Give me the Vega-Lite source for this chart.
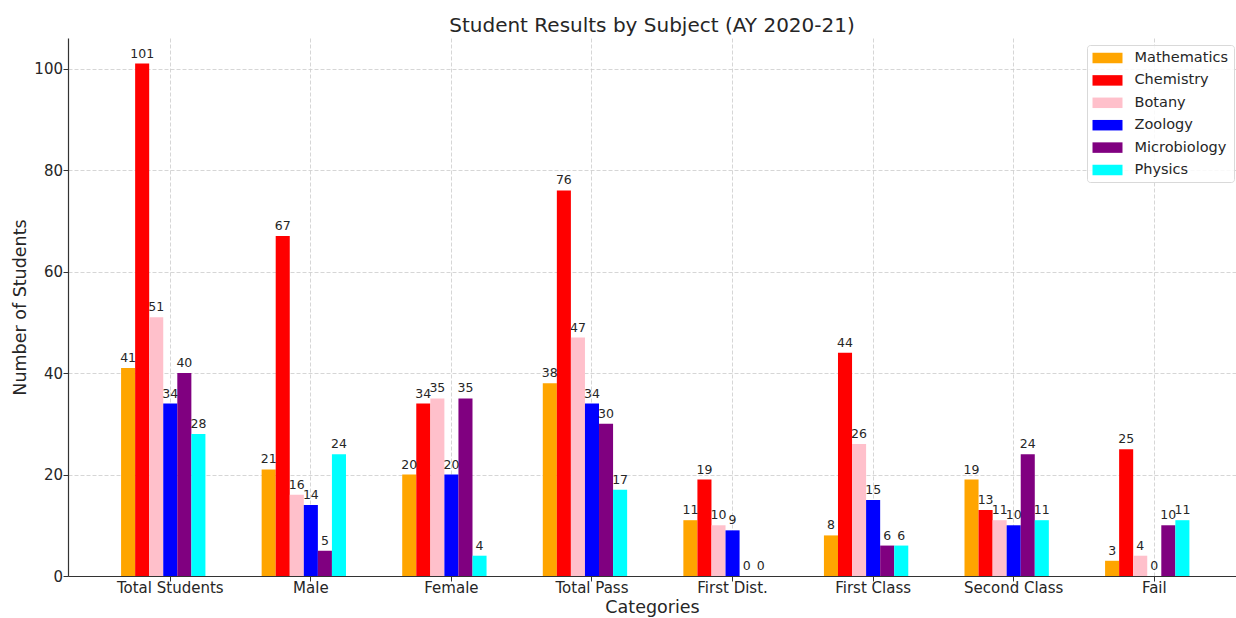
{
  "$schema": "https://vega.github.io/schema/vega-lite/v6.json",
  "autosize": {"type": "none"},
  "padding": {"left": 68, "top": 38, "right": 0, "bottom": 42},
  "width": 1168,
  "height": 538,
  "background": "white",
  "config": {
    "view": {"stroke": null},
    "font": "DejaVu Sans",
    "axis": {
      "labelFont": "DejaVu Sans",
      "titleFont": "DejaVu Sans",
      "labelFontSize": 15,
      "titleFontSize": 17.5,
      "titleFontWeight": "normal",
      "labelColor": "#262626",
      "titleColor": "#262626",
      "domainColor": "#333333",
      "domainWidth": 1.2,
      "tickColor": "#333333",
      "tickSize": 5,
      "tickWidth": 1,
      "gridColor": "#cccccc",
      "gridDash": [4, 2],
      "gridWidth": 0.8
    }
  },
  "title": {
    "text": "Student Results by Subject (AY 2020-21)",
    "fontSize": 20,
    "fontWeight": "normal",
    "color": "#262626",
    "font": "DejaVu Sans",
    "offset": 2
  },
  "data": {
    "values": [
      {"category": "Total Students", "subject": "Mathematics", "value": 41},
      {"category": "Total Students", "subject": "Chemistry", "value": 101},
      {"category": "Total Students", "subject": "Botany", "value": 51},
      {"category": "Total Students", "subject": "Zoology", "value": 34},
      {"category": "Total Students", "subject": "Microbiology", "value": 40},
      {"category": "Total Students", "subject": "Physics", "value": 28},
      {"category": "Male", "subject": "Mathematics", "value": 21},
      {"category": "Male", "subject": "Chemistry", "value": 67},
      {"category": "Male", "subject": "Botany", "value": 16},
      {"category": "Male", "subject": "Zoology", "value": 14},
      {"category": "Male", "subject": "Microbiology", "value": 5},
      {"category": "Male", "subject": "Physics", "value": 24},
      {"category": "Female", "subject": "Mathematics", "value": 20},
      {"category": "Female", "subject": "Chemistry", "value": 34},
      {"category": "Female", "subject": "Botany", "value": 35},
      {"category": "Female", "subject": "Zoology", "value": 20},
      {"category": "Female", "subject": "Microbiology", "value": 35},
      {"category": "Female", "subject": "Physics", "value": 4},
      {"category": "Total Pass", "subject": "Mathematics", "value": 38},
      {"category": "Total Pass", "subject": "Chemistry", "value": 76},
      {"category": "Total Pass", "subject": "Botany", "value": 47},
      {"category": "Total Pass", "subject": "Zoology", "value": 34},
      {"category": "Total Pass", "subject": "Microbiology", "value": 30},
      {"category": "Total Pass", "subject": "Physics", "value": 17},
      {"category": "First Dist.", "subject": "Mathematics", "value": 11},
      {"category": "First Dist.", "subject": "Chemistry", "value": 19},
      {"category": "First Dist.", "subject": "Botany", "value": 10},
      {"category": "First Dist.", "subject": "Zoology", "value": 9},
      {"category": "First Dist.", "subject": "Microbiology", "value": 0},
      {"category": "First Dist.", "subject": "Physics", "value": 0},
      {"category": "First Class", "subject": "Mathematics", "value": 8},
      {"category": "First Class", "subject": "Chemistry", "value": 44},
      {"category": "First Class", "subject": "Botany", "value": 26},
      {"category": "First Class", "subject": "Zoology", "value": 15},
      {"category": "First Class", "subject": "Microbiology", "value": 6},
      {"category": "First Class", "subject": "Physics", "value": 6},
      {"category": "Second Class", "subject": "Mathematics", "value": 19},
      {"category": "Second Class", "subject": "Chemistry", "value": 13},
      {"category": "Second Class", "subject": "Botany", "value": 11},
      {"category": "Second Class", "subject": "Zoology", "value": 10},
      {"category": "Second Class", "subject": "Microbiology", "value": 24},
      {"category": "Second Class", "subject": "Physics", "value": 11},
      {"category": "Fail", "subject": "Mathematics", "value": 3},
      {"category": "Fail", "subject": "Chemistry", "value": 25},
      {"category": "Fail", "subject": "Botany", "value": 4},
      {"category": "Fail", "subject": "Zoology", "value": 0},
      {"category": "Fail", "subject": "Microbiology", "value": 10},
      {"category": "Fail", "subject": "Physics", "value": 11}
    ]
  },
  "encoding": {
    "x": {
      "field": "category",
      "type": "nominal",
      "sort": ["Total Students", "Male", "Female", "Total Pass", "First Dist.", "First Class", "Second Class", "Fail"],
      "scale": {"paddingInner": 0.3, "paddingOuter": 0.3045, "align": 0.62},
      "axis": {"title": "Categories", "labelAngle": 0, "grid": true, "labelPadding": -1, "titlePadding": 3}
    },
    "xOffset": {
      "field": "subject",
      "type": "nominal",
      "scale": {"domain": ["Mathematics", "Chemistry", "Botany", "Zoology", "Microbiology", "Physics", "zz_pad"], "paddingInner": 0, "paddingOuter": 0}
    },
    "y": {
      "field": "value",
      "type": "quantitative",
      "scale": {"domain": [0, 106.05], "nice": false},
      "axis": {"title": "Number of Students", "values": [0, 20, 40, 60, 80, 100], "grid": true, "labelPadding": 0.5, "titlePadding": 4}
    }
  },
  "layer": [
    {
      "mark": {"type": "bar"},
      "encoding": {
        "color": {
          "field": "subject",
          "type": "nominal",
          "scale": {
            "domain": ["Mathematics", "Chemistry", "Botany", "Zoology", "Microbiology", "Physics"],
            "range": ["#FFA500", "#FF0000", "#FFC0CB", "#0000FF", "#800080", "#00FFFF"]
          },
          "legend": {
            "title": null,
            "orient": "none",
            "legendX": 1019,
            "legendY": 7,
            "symbolType": "M-1,-0.7H3V0.7H-1Z",
            "symbolSize": 225,
            "symbolStrokeWidth": 0,
            "labelFontSize": 14.5,
            "labelFont": "DejaVu Sans",
            "labelColor": "#262626",
            "labelOffset": 27,
            "rowPadding": 7.4,
            "padding": 5.5,
            "strokeColor": "#d9d9d9",
            "fillColor": "rgba(255,255,255,0.85)",
            "cornerRadius": 3
          }
        }
      }
    },
    {
      "mark": {"type": "text", "baseline": "alphabetic", "dy": -6, "fontSize": 12.5, "color": "#262626", "font": "DejaVu Sans"},
      "encoding": {
        "text": {"field": "value", "type": "quantitative"}
      }
    }
  ]
}
